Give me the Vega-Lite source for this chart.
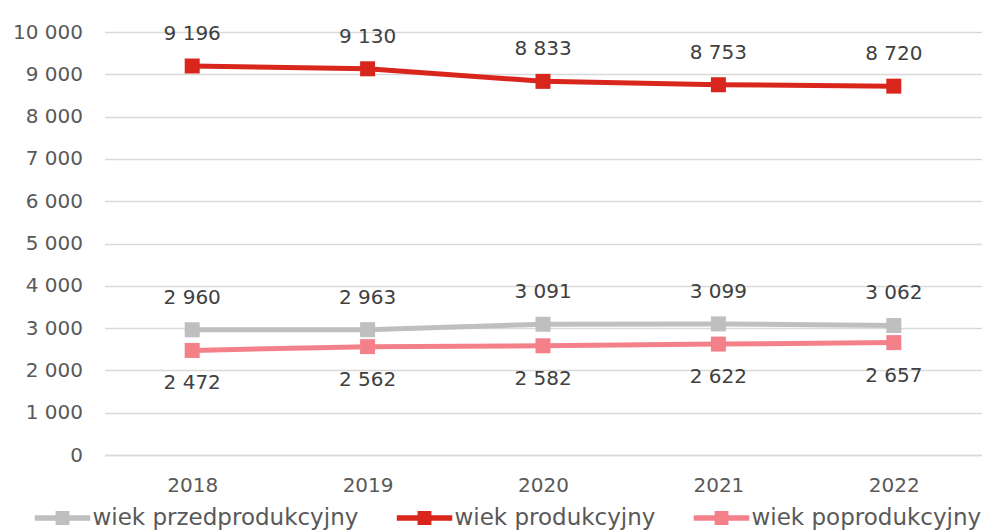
{
  "$schema": "https://vega.github.io/schema/vega-lite/v6.json",
  "width": 877,
  "height": 423,
  "autosize": {"type": "none"},
  "padding": {"left": 104.5, "top": 32, "right": 4.5, "bottom": 75},
  "background": "white",
  "config": {
    "locale": {"number": {"decimal": ",", "thousands": " ", "grouping": [3], "currency": ["", " zł"]}},
    "view": {"stroke": null},
    "font": "DejaVu Sans"
  },
  "data": {
    "values": [
      {"rok": "2018", "grupa": "wiek przedprodukcyjny", "wartosc": 2960},
      {"rok": "2019", "grupa": "wiek przedprodukcyjny", "wartosc": 2963},
      {"rok": "2020", "grupa": "wiek przedprodukcyjny", "wartosc": 3091},
      {"rok": "2021", "grupa": "wiek przedprodukcyjny", "wartosc": 3099},
      {"rok": "2022", "grupa": "wiek przedprodukcyjny", "wartosc": 3062},
      {"rok": "2018", "grupa": "wiek produkcyjny", "wartosc": 9196},
      {"rok": "2019", "grupa": "wiek produkcyjny", "wartosc": 9130},
      {"rok": "2020", "grupa": "wiek produkcyjny", "wartosc": 8833},
      {"rok": "2021", "grupa": "wiek produkcyjny", "wartosc": 8753},
      {"rok": "2022", "grupa": "wiek produkcyjny", "wartosc": 8720},
      {"rok": "2018", "grupa": "wiek poprodukcyjny", "wartosc": 2472},
      {"rok": "2019", "grupa": "wiek poprodukcyjny", "wartosc": 2562},
      {"rok": "2020", "grupa": "wiek poprodukcyjny", "wartosc": 2582},
      {"rok": "2021", "grupa": "wiek poprodukcyjny", "wartosc": 2622},
      {"rok": "2022", "grupa": "wiek poprodukcyjny", "wartosc": 2657}
    ]
  },
  "encoding": {
    "x": {
      "field": "rok", "type": "ordinal", "title": null,
      "scale": {"type": "point", "padding": 0.5},
      "axis": {"labelAngle": 0, "labelFontSize": 20, "labelColor": "#595959", "labelPadding": 20, "ticks": false, "domain": true, "domainColor": "#D9D9D9", "domainWidth": 1.5, "grid": false}
    },
    "y": {
      "field": "wartosc", "type": "quantitative", "title": null,
      "scale": {"domain": [0, 10000], "nice": false},
      "axis": {"values": [0, 1000, 2000, 3000, 4000, 5000, 6000, 7000, 8000, 9000, 10000], "format": ",d", "labelFontSize": 20, "labelColor": "#595959", "labelPadding": 22, "ticks": false, "domain": false, "gridColor": "#D9D9D9", "gridWidth": 1.5}
    },
    "color": {
      "field": "grupa", "type": "nominal", "title": null,
      "scale": {"domain": ["wiek przedprodukcyjny", "wiek produkcyjny", "wiek poprodukcyjny"], "range": ["#BFBFBF", "#D9261C", "#F4818A"]}
    }
  },
  "layer": [
    {
      "mark": {"type": "line", "strokeWidth": 5},
      "encoding": {}
    },
    {
      "mark": {"type": "point", "shape": "square", "filled": true, "opacity": 1, "size": 225},
      "encoding": {
        "color": {
          "field": "grupa", "type": "nominal", "title": null,
          "scale": {"domain": ["wiek przedprodukcyjny", "wiek produkcyjny", "wiek poprodukcyjny"], "range": ["#BFBFBF", "#D9261C", "#F4818A"]},
          "legend": {
            "orient": "none", "direction": "horizontal", "legendX": -70, "legendY": 458,
            "symbolType": "M-1,-0.1H1V0.1H-1Z M-0.25,-0.25H0.25V0.25H-0.25Z",
            "symbolSize": 3080, "symbolStrokeWidth": 0, "symbolOpacity": 1,
            "labelFontSize": 23, "labelColor": "#595959", "labelOffset": 2, "columnPadding": 38,
            "labelLimit": 400,
            "encode": {"symbols": {"update": {"size": {"value": 3080}, "shape": {"value": "M-1,-0.1H1V0.1H-1Z M-0.25,-0.25H0.25V0.25H-0.25Z"}, "strokeWidth": {"value": 0}}}}
          }
        }
      }
    },
    {
      "transform": [{"filter": "datum.grupa != 'wiek poprodukcyjny'"}],
      "mark": {"type": "text", "dy": -32, "fontSize": 20, "color": "#404040"},
      "encoding": {"text": {"field": "wartosc", "type": "quantitative", "format": ",d"}, "color": {"value": "#404040"}}
    },
    {
      "transform": [{"filter": "datum.grupa == 'wiek poprodukcyjny'"}],
      "mark": {"type": "text", "dy": 33, "fontSize": 20, "color": "#404040"},
      "encoding": {"text": {"field": "wartosc", "type": "quantitative", "format": ",d"}, "color": {"value": "#404040"}}
    }
  ]
}
